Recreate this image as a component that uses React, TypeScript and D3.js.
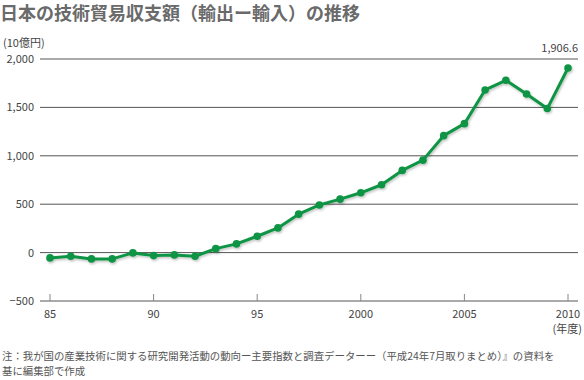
import React from "react";
import * as d3 from "d3";

const years = [1985,1986,1987,1988,1989,1990,1991,1992,1993,1994,1995,1996,1997,1998,1999,2000,2001,2002,2003,2004,2005,2006,2007,2008,2009,2010];
const balance = [-55,-38,-65,-65,-3,-31,-24,-38,41,90,169,255,397,492,552,618,701,849,955,1208,1332,1680,1780,1639,1488,1906.6];
const yTicks = [-500,0,500,1000,1500,2000];
const xTicks = [1985,1990,1995,2000,2005,2010];
const xTickLabels = ["85","90","95","2000","2005","2010"];

const W = 584, H = 380;
const FONT = "'Noto Sans CJK JP', 'Noto Sans', sans-serif";

export default function App() {
  const x = d3.scaleLinear().domain([1985, 2010]).range([50, 568]);
  const y = d3.scaleLinear().domain([-500, 2000]).range([301, 59]);
  const line = d3.line<number>().x((_, i) => x(years[i])).y(d => y(d));
  const path = line(balance) || "";
  const fmt = d3.format(",");
  const last = balance[balance.length - 1];

  return (
    <svg width={W} height={H} style={{ position: "absolute", left: 0, top: 0, background: "#fff" }} fontFamily={FONT}>
      <defs>
        <filter id="sh" x="-10%" y="-10%" width="120%" height="130%">
          <feDropShadow dx="1" dy="1.5" stdDeviation="1" floodColor="#000" floodOpacity="0.25" />
        </filter>
      </defs>
      <text x={0} y={20} fontSize={18} fontWeight="bold" fill="#6a6a6a">日本の技術貿易収支額（輸出ー輸入）の推移</text>
      <text x={3} y={47} fontSize={11} fill="#444">(10億円)</text>
      {yTicks.map(t => {
        const edge = t === 2000 || t === -500;
        return (
          <g key={t}>
            <line x1={40} x2={578} y1={y(t)} y2={y(t)} stroke={edge ? "#aaa" : "#555"} strokeWidth={edge ? 2 : 1} />
            <text x={34} y={y(t) + 4} fontSize={11} fill="#444" textAnchor="end">{fmt(t)}</text>
          </g>
        );
      })}
      {xTicks.map((t, i) => (
        <g key={t}>
          <line x1={x(t)} x2={x(t)} y1={y(-500)} y2={y(-500) - 7} stroke="#888" strokeWidth={1} />
          <text x={x(t)} y={y(-500) + 17} fontSize={11} fill="#444" textAnchor="middle">{xTickLabels[i]}</text>
        </g>
      ))}
      <text x={582} y={333} fontSize={11} fill="#444" textAnchor="end">(年度)</text>
      <g filter="url(#sh)">
        <path d={path} fill="none" stroke="#109444" strokeWidth={3} strokeLinejoin="round" />
        {balance.map((v, i) => (
          <circle key={i} cx={x(years[i])} cy={y(v)} r={3.8} fill="#109444" />
        ))}
      </g>
      <text x={578} y={52} fontSize={11} fill="#444" textAnchor="end">{d3.format(",.1f")(last)}</text>
      <text x={2} y={360} fontSize={10.4} fill="#555">注：我が国の産業技術に関する研究開発活動の動向ー主要指数と調査データーー（平成24年7月取りまとめ）』の資料を</text>
      <text x={2} y={375} fontSize={10.4} fill="#555">基に編集部で作成</text>
    </svg>
  );
}
